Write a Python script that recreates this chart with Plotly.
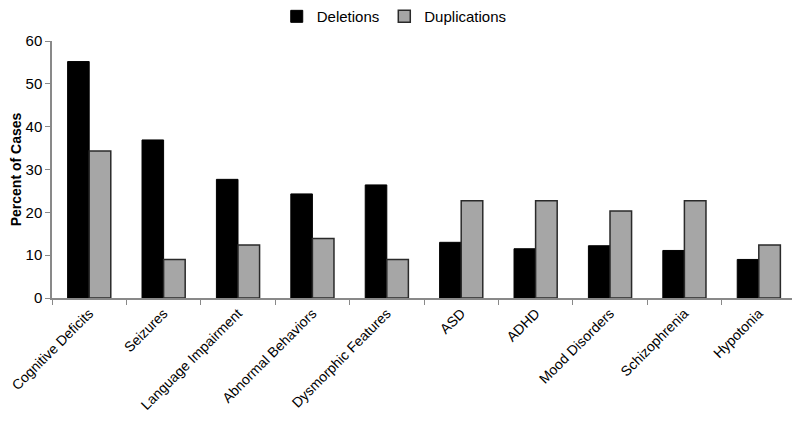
import plotly.graph_objects as go

categories = ["Cognitive Deficits", "Seizures", "Language Impairment", "Abnormal Behaviors",
              "Dysmorphic Features", "ASD", "ADHD", "Mood Disorders", "Schizophrenia", "Hypotonia"]
deletions = [55.2, 36.9, 27.7, 24.3, 26.4, 13.0, 11.5, 12.2, 11.1, 9.0]
duplications = [34.3, 9.0, 12.4, 13.9, 9.0, 22.7, 22.7, 20.3, 22.7, 12.4]
y_ticks = [0, 10, 20, 30, 40, 50, 60]

fig = go.Figure()
fig.add_trace(go.Bar(x=categories, y=deletions, name="Deletions",
                     marker=dict(color="#000000", line=dict(color="#000000", width=1))))
fig.add_trace(go.Bar(x=categories, y=duplications, name="Duplications",
                     marker=dict(color="#a6a6a6", line=dict(color="#2a2a2a", width=1.5))))

# page body has an 8px default margin, so the figure is sized to fit the window
fig.update_layout(
    width=792, height=416,
    margin=dict(l=44, r=4, t=33, b=126, autoexpand=False),
    paper_bgcolor="white", plot_bgcolor="white",
    barmode="group", bargap=0.42, bargroupgap=0,
    font=dict(family="Liberation Sans, Arial, sans-serif", size=14, color="#000000"),
    legend=dict(orientation="h", x=0.46, xanchor="center",
                y=1.095, yanchor="middle",
                font=dict(size=15), itemwidth=30, traceorder="normal",
                bgcolor="rgba(0,0,0,0)"),
    showlegend=True,
)
fig.update_xaxes(showline=True, linecolor="#898989", linewidth=1.5, ticks="outside",
                 tickson="boundaries", ticklen=5, tickcolor="#898989", tickangle=-45,
                 showgrid=False, tickfont=dict(size=14), automargin=False)
fig.update_yaxes(range=[0, 60], tickvals=y_ticks, showline=True, linecolor="#898989",
                 linewidth=1.5, ticks="outside", ticklen=5, tickcolor="#898989",
                 showgrid=False, zeroline=False, tickfont=dict(size=15), automargin=False,
                 title=dict(text="<b>Percent of Cases</b>", font=dict(size=14), standoff=8))

fig.write_html("out.html")
